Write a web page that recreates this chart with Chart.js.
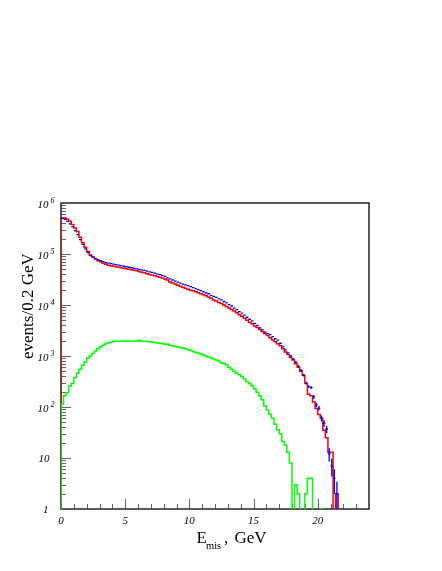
<!DOCTYPE html>
<html><head><meta charset="utf-8">
<script src="https://cdn.jsdelivr.net/npm/chart.js@4/dist/chart.umd.min.js"></script>
<style>html,body{margin:0;padding:0;background:#fff;}canvas{display:block;}</style>
</head><body>
<canvas id="c" width="442" height="571"></canvas>
<script>
// bins of 0.2 GeV starting at 0
const binStart = 0;
const binWidth = 0.2;

// red histogram (simulation)
const mcRed = [
 513000,510000,479000,437000,380000,324000,275000,214000,166000,135000,
 112000,95500,87100,79400,74100,70800,66100,63100,60300,58900,
 57500,56200,55000,53700,52500,51300,50100,49000,47900,46800,
 45200,43700,42700,41200,39800,38900,37600,36300,35100,33900,
 32400,30900,28200,26900,25700,24500,23400,22400,21400,20400,
 19500,19100,18200,17400,16600,15800,15100,14300,13500,12600,
 12000,11200,10700,10000,9330,8710,8130,7590,7080,6460,
 6030,5500,5010,4570,4270,3890,3630,3310,3020,2750,
 2510,2290,2090,1910,1740,1580,1380,1200,1070,933,
 832,708,603,501,417,288,178,166,126,93,
 71,60,35,25,13,13,0,2,0,0
];

// blue points (data, with statistical error bars)
const dataBlue = [
 501000,479000,437000,389000,339000,288000,240000,191000,155000,126000,
 107000,93300,87100,81300,77600,74100,70800,67600,66100,64600,
 63100,61700,60300,58900,57500,56200,55000,53700,52500,51300,
 50100,49000,47900,46200,44700,43700,42200,40700,39400,38000,
 36300,33900,32400,30900,29500,28200,26900,25700,24800,24000,
 22900,21900,20900,20000,19100,18200,17400,16600,15500,14800,
 14100,13200,12600,11700,11000,10200,9550,8710,8130,7410,
 6920,6310,5750,5250,4900,4370,3980,3550,3240,2950,
 2750,2630,2400,2190,2040,1780,1510,1320,1150,1000,
 871,759,631,525,417,295,251,240,158,110,
 95,60,48,37,12,7,4,2,0,0
];

// green histogram (background)
const bgGreen = [
 115,166,191,257,288,380,457,550,661,759,
 912,1000,1120,1260,1380,1510,1620,1740,1820,1860,
 1930,1950,1950,1950,1950,1970,1970,1950,1950,1970,
 2040,1950,1950,1930,1910,1880,1840,1820,1780,1760,
 1700,1720,1620,1580,1530,1500,1460,1430,1380,1320,
 1290,1230,1170,1150,1100,1050,1000,955,912,871,
 832,794,741,716,676,603,550,501,457,427,
 398,355,316,288,263,229,195,166,138,105,
 87,72,60,46,36,30,21,18,13,8,
 0,3,2,0,0,2,4,4,0,0,
 0,1,0,0,0,0,0,0,0,0
];

const xMin = 0, xMax = 24, xMinorStep = 1;
const xTickValues = [0, 5, 10, 15, 20];
const xTickLabels = ["0", "5", "10", "15", "20"];
const yMin = 1, yMax = 1e6;
const yTickValues = [1, 10, 100, 1000, 10000, 100000, 1000000];
const yTickBase = ["1", "10", "10", "10", "10", "10", "10"];
const yTickExp = ["", "", "2", "3", "4", "5", "6"];
const yTitle = "events/0.2 GeV";
const xTitleMain = "E", xTitleSub = "mis", xTitleRest = "GeV";

const FLOOR = 0.1; // empty bins fall below the axis
function histPoints(vals) {
  const pts = [{x: binStart, y: FLOOR}];
  vals.forEach((v, i) => {
    const y = v > 0 ? v : FLOOR;
    pts.push({x: binStart + i * binWidth, y}, {x: binStart + (i + 1) * binWidth, y});
  });
  pts.push({x: binStart + vals.length * binWidth, y: FLOOR});
  return pts;
}

const SERIF = "'Liberation Serif','DejaVu Serif',serif";

const framePlugin = {
  id: 'frame',
  beforeDatasetsDraw(chart) {
    const {ctx, chartArea: a, scales: {x, y}} = chart;
    ctx.save();
    ctx.strokeStyle = '#666';
    ctx.lineWidth = 1;
    ctx.beginPath();
    for (let v = xMin + xMinorStep; v < xMax; v += xMinorStep) {
      const px = Math.round(x.getPixelForValue(v)) + 0.5;
      const len = xTickValues.includes(v) ? 10 : 5;
      ctx.moveTo(px, a.bottom); ctx.lineTo(px, a.bottom - len);
    }
    for (let d = 0; d < 6; d++) {
      for (let m = 1; m <= 9; m++) {
        const v = m * Math.pow(10, d);
        if (v <= yMin) continue;
        const py = Math.round(y.getPixelForValue(v)) + 0.5;
        const len = m === 1 ? 10 : 5;
        ctx.moveTo(a.left, py); ctx.lineTo(a.left + len, py);
      }
    }
    ctx.stroke();
    ctx.strokeStyle = '#222';
    ctx.lineWidth = 1.5;
    ctx.strokeRect(a.left, a.top, a.right - a.left, a.bottom - a.top);
    ctx.restore();
  },
  afterDatasetsDraw(chart) {
    const {ctx, chartArea: a, scales: {x, y}} = chart;
    ctx.save();
    ctx.beginPath();
    ctx.rect(a.left - 1, a.top, a.right - a.left + 2, a.bottom - a.top + 1);
    ctx.clip();
    ctx.strokeStyle = '#0000ff';
    ctx.lineWidth = 1.3;
    const ds = chart.data.datasets[2].data;
    ds.forEach((p) => {
      if (p.y == null || !(p.y > 0)) return;
      const xl = x.getPixelForValue(p.x - binWidth / 2);
      const xr = x.getPixelForValue(p.x + binWidth / 2);
      const xc = x.getPixelForValue(p.x);
      const py = y.getPixelForValue(p.y);
      const e = Math.sqrt(p.y);
      const pHi = y.getPixelForValue(p.y + e);
      const pLo = (p.y - e) > 0 ? Math.min(y.getPixelForValue(p.y - e), a.bottom) : a.bottom;
      ctx.beginPath();
      ctx.moveTo(xl, py); ctx.lineTo(xr, py);
      ctx.moveTo(xc, pHi); ctx.lineTo(xc, pLo);
      ctx.stroke();
    });
    ctx.restore();
  },
  afterDraw(chart) {
    const {ctx, chartArea: a, scales: {x, y}} = chart;
    ctx.save();
    ctx.fillStyle = '#000';
    // x tick labels
    ctx.font = 'italic 11px ' + SERIF;
    ctx.textAlign = 'center';
    ctx.textBaseline = 'middle';
    xTickValues.forEach((v, i) => {
      ctx.fillText(xTickLabels[i], x.getPixelForValue(v), a.bottom + 12.5);
    });
    // y tick labels
    yTickValues.forEach((v, i) => {
      const py = y.getPixelForValue(v);
      ctx.textBaseline = 'middle';
      ctx.textAlign = 'right';
      ctx.font = 'italic 11px ' + SERIF;
      if (yTickExp[i]) {
        ctx.fillText(yTickBase[i], 48.5, py + 2);
        ctx.textAlign = 'left';
        ctx.font = 'italic 8px ' + SERIF;
        ctx.fillText(yTickExp[i], 50.5, py - 2.5);
      } else {
        ctx.fillText(yTickBase[i], i === 0 ? 48.5 : 49.5, py + 1);
      }
    });
    // y title
    ctx.save();
    ctx.translate(33, 359);
    ctx.rotate(-Math.PI / 2);
    ctx.font = '17px ' + SERIF;
    ctx.textAlign = 'left';
    ctx.textBaseline = 'alphabetic';
    ctx.fillText(yTitle, 0, 0);
    ctx.restore();
    // x title
    ctx.textAlign = 'left';
    ctx.textBaseline = 'alphabetic';
    ctx.font = '17px ' + SERIF;
    ctx.fillText(xTitleMain, 196.5, 543);
    ctx.font = '10.5px ' + SERIF;
    ctx.fillText(xTitleSub, 206, 549);
    ctx.font = '17px ' + SERIF;
    ctx.fillText(',', 224, 543);
    ctx.fillText(xTitleRest, 234.5, 543);
    ctx.restore();
  }
};

new Chart(document.getElementById('c'), {
  type: 'line',
  data: {
    datasets: [
      {label: 'background', data: histPoints(bgGreen), borderColor: '#00ff00', borderWidth: 1.5,
       pointRadius: 0, tension: 0, fill: false, order: 1},
      {label: 'MC', data: histPoints(mcRed), borderColor: '#ff0000', borderWidth: 1.5,
       pointRadius: 0, tension: 0, fill: false, order: 2},
      {label: 'data', data: dataBlue.map((v, i) => ({x: binStart + (i + 0.5) * binWidth, y: v > 0 ? v : null})),
       showLine: false, pointRadius: 0, borderColor: '#0000ff', order: 0}
    ]
  },
  options: {
    responsive: false,
    animation: false,
    devicePixelRatio: 1,
    events: [],
    layout: {padding: {left: 61, top: 203, right: 73, bottom: 62}},
    scales: {
      x: {type: 'linear', min: xMin, max: xMax, display: false},
      y: {type: 'logarithmic', min: yMin, max: yMax, display: false}
    },
    plugins: {legend: {display: false}, tooltip: {enabled: false}}
  },
  plugins: [framePlugin]
});
</script>
</body></html>
